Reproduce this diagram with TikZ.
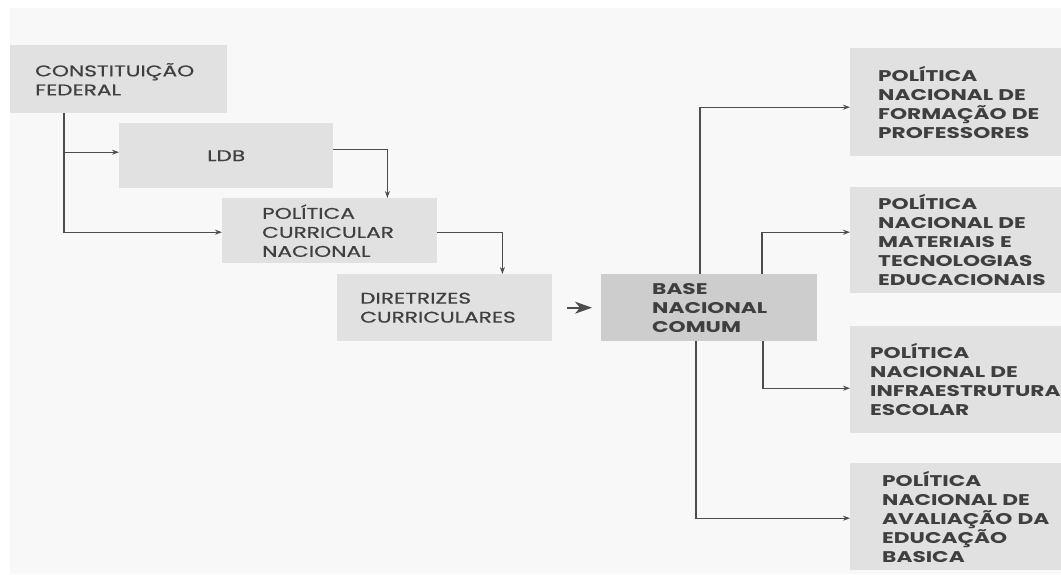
\documentclass[tikz,border=0pt]{standalone}
\usepackage{fontspec}
\setmainfont{Poppins}[FakeStretch=1.4]
\newfontfamily\medio{Poppins}[FakeStretch=1.4, FakeBold=0.6]
\usetikzlibrary{arrows.meta}
\definecolor{fundo}{HTML}{F8F8F8}
\definecolor{caixacinza}{HTML}{E1E1E1}
\definecolor{basecinza}{HTML}{CDCDCD}
\definecolor{textocinza}{HTML}{3F3F3F}
\definecolor{linhacinza}{HTML}{4D4D4D}
\tikzstyle{caixa} = [rectangle, anchor=north west, inner ysep=0pt, align=left, fill=caixacinza, text=textocinza, font=\fontsize{15.5}{19}\selectfont\medio]
\tikzstyle{politica} = [caixa, font=\fontsize{15.5}{19}\selectfont\bfseries, minimum height=107pt, inner xsep=28pt, text width=155pt]
\tikzstyle{seta} = [draw=linhacinza, line width=1.2pt, -{Stealth[length=7pt, width=5pt]}]

\begin{document}
\begin{tikzpicture}[x=1pt, y=-1pt]

\useasboundingbox (0,0) rectangle (1061,574);
\fill[fundo] (10,8) rectangle (1061,574);

\node at (10, 45) (cf) [caixa, minimum height=68pt, inner xsep=25pt, text width=167pt] {CONSTITUIÇÃO\\FEDERAL};
\node at (119, 123) (ldb) [caixa, minimum height=65pt, inner xsep=0pt, text width=214pt, align=center] {LDB};
\node at (222, 198) (pcn) [caixa, minimum height=65pt, inner xsep=40pt, text width=135pt] {POLÍTICA\\CURRICULAR\\NACIONAL};
\node at (337, 274) (dc) [caixa, minimum height=67pt, inner xsep=23pt, text width=169pt] {DIRETRIZES\\CURRICULARES};
\node at (601, 274) (bnc) [caixa, fill=basecinza, font=\fontsize{15.5}{19}\selectfont\bfseries, minimum height=67pt, inner xsep=51pt, text width=114pt] {BASE\\NACIONAL\\COMUM};

\node at (850, 48) (pf) [politica, minimum height=108pt] {POLÍTICA\\NACIONAL~DE\\FORMAÇÃO~DE\\PROFESSORES};
\node at (850, 187) (pm) [politica, minimum height=106pt] {POLÍTICA\\NACIONAL~DE\\MATERIAIS~E\\TECNOLOGIAS\\EDUCACIONAIS};
\node at (850, 326) (pi) [politica, inner xsep=20pt, text width=171pt] {POLÍTICA\\NACIONAL~DE\\INFRAESTRUTURA\\ESCOLAR};
\node at (850, 463) (pa) [politica, inner xsep=32pt, text width=147pt] {POLÍTICA\\NACIONAL~DE\\AVALIAÇÃO~DA\\EDUCAÇÃO\\BASICA};

\coordinate (cfdesce) at ([xshift=54pt]cf.south west);
\coordinate (ldbin) at ([yshift=3.5pt]ldb.west);

\draw [seta] (cfdesce) |- ([yshift=-1.5pt]pcn.west);
\draw [seta] (cfdesce |- ldbin) -- (ldbin);
\draw [seta] ([yshift=6.5pt]ldb.east) -| ([xshift=-50pt]pcn.north east);
\draw [seta] ([yshift=-1.5pt]pcn.east) -| ([xshift=-50pt]dc.north east);
\draw [draw=linhacinza, line width=1.6pt, -{Stealth[length=17pt, width=12pt, inset=5pt]}, shorten <=15pt, shorten >=9pt] (dc) -- (bnc);

\draw [seta] ([xshift=99pt]bnc.north west) |- ([yshift=-5pt]pf.west);
\draw [seta] ([xshift=161pt]bnc.north west) |- ([yshift=8pt]pm.west);
\draw [seta] ([xshift=162pt]bnc.south west) |- ([yshift=-8.5pt]pi.west);
\draw [seta] ([xshift=95pt]bnc.south west) |- ([yshift=-1.5pt]pa.west);

\end{tikzpicture}
\end{document}
